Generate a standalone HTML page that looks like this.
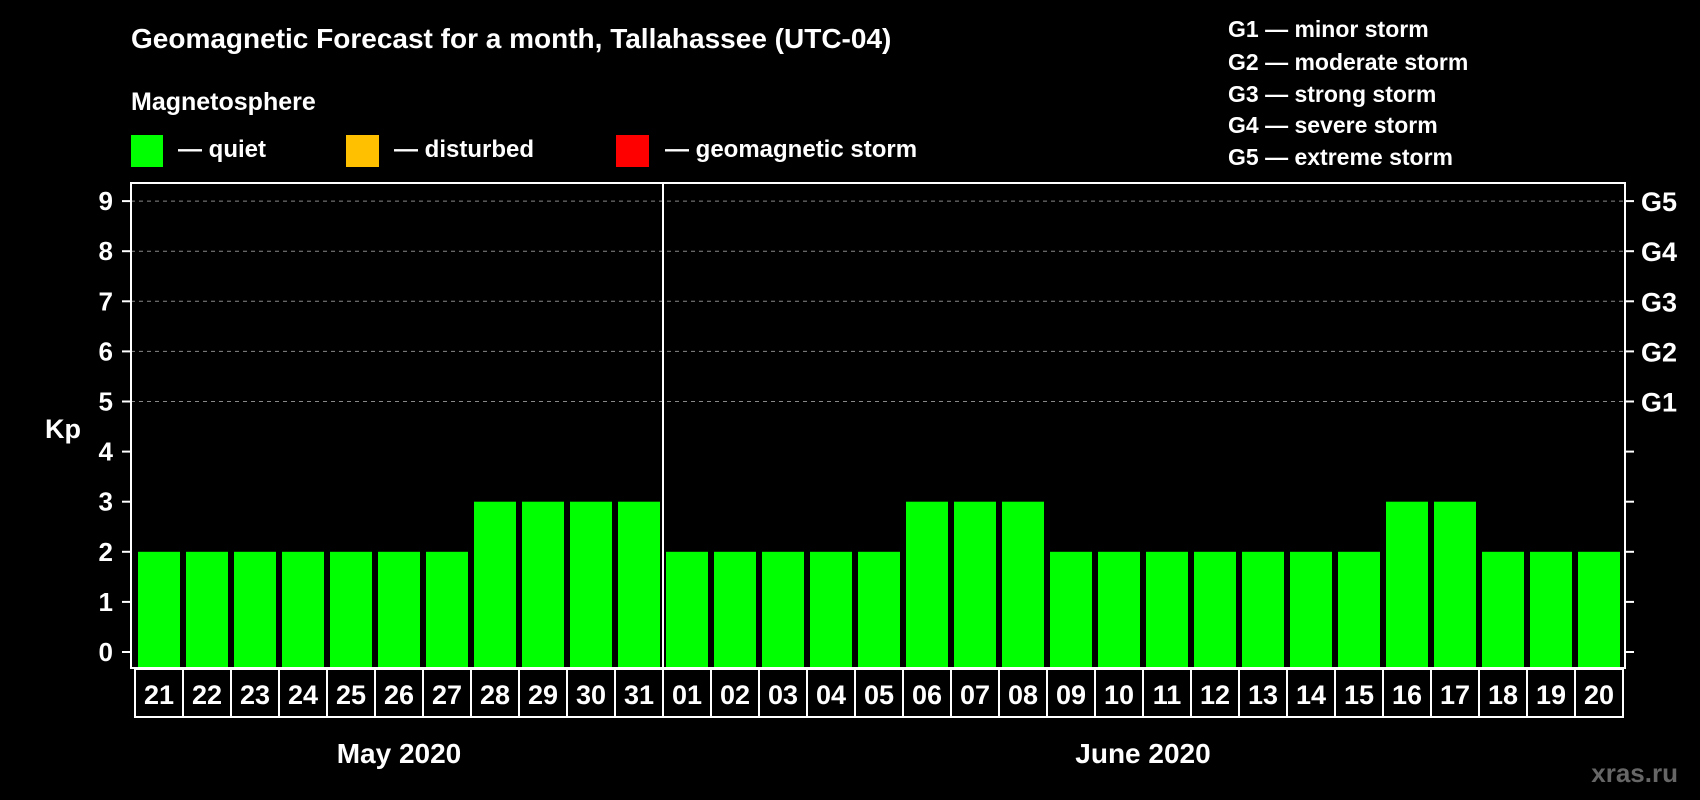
<!DOCTYPE html>
<html><head><meta charset="utf-8"><style>
html,body{margin:0;padding:0;background:#000;width:1700px;height:800px;overflow:hidden}
svg text{font-family:"Liberation Sans",Arial,sans-serif;font-weight:bold;fill:#fff}
</style></head><body>
<svg id="chart" width="1700" height="800" viewBox="0 0 1700 800" xmlns="http://www.w3.org/2000/svg">
<rect x="0" y="0" width="1700" height="800" fill="#000"/>
<text x="131" y="48" font-size="28">Geomagnetic Forecast for a month, Tallahassee (UTC-04)</text>
<text x="131" y="110" font-size="25">Magnetosphere</text>
<g><rect x="131" y="135" width="32" height="32" fill="#00ff00"/><text x="178" y="157" font-size="24">— quiet</text></g>
<g><rect x="346" y="135" width="33" height="32" fill="#ffc000"/><text x="394" y="157" font-size="24">— disturbed</text></g>
<g><rect x="616" y="135" width="33" height="32" fill="#ff0000"/><text x="665" y="157" font-size="24">— geomagnetic storm</text></g>
<g font-size="23">
<text x="1228" y="37">G1 — minor storm</text>
<text x="1228" y="70">G2 — moderate storm</text>
<text x="1228" y="102">G3 — strong storm</text>
<text x="1228" y="133">G4 — severe storm</text>
<text x="1228" y="165">G5 — extreme storm</text>
</g>
<g id="plot"></g>
<text x="63" y="438" font-size="27" text-anchor="middle">Kp</text>
<text x="1678" y="782" font-size="26" text-anchor="end" style="fill:#666">xras.ru</text>
</svg>
<script>
const days = ["21","22","23","24","25","26","27","28","29","30","31","01","02","03","04","05","06","07","08","09","10","11","12","13","14","15","16","17","18","19","20"];
const kpValues = [2,2,2,2,2,2,2,3,3,3,3,2,2,2,2,2,3,3,3,2,2,2,2,2,2,2,3,3,2,2,2];
const yTicks = [0,1,2,3,4,5,6,7,8,9];
const gLabels = ["G1","G2","G3","G4","G5"];
const gLevels = [5,6,7,8,9];
const months = ["May 2020","June 2020"];
const monthDayCounts = [11,20];

const NS="http://www.w3.org/2000/svg";
const g=document.getElementById('plot');
const L=131,R=1625,T=183,B=668,x0=135,pitch=48;
const y=v=>652-v*50.1;
const xs=i=>x0+i*pitch;
function mk(tag,attrs){const e=document.createElementNS(NS,tag);for(const k in attrs)e.setAttribute(k,attrs[k]);g.appendChild(e);return e;}

gLevels.forEach(v=>{const l=mk('line',{x1:L,x2:R,y1:y(v),y2:y(v),stroke:'#888','stroke-width':1,'stroke-dasharray':'4,4'});

});

kpValues.forEach((v,i)=>{const c=v>=5?'#ff0000':(v>=4?'#ffc000':'#00ff00');
const r=mk('rect',{x:xs(i)+3,y:y(v),width:42,height:y(0)+16-y(v)-0,fill:c});
r.setAttribute('height',B-1-y(v));

});

const fr=mk('rect',{x:L,y:T,width:R-L,height:B-T,fill:'none',stroke:'#fff','stroke-width':2});



yTicks.forEach(v=>{
const t1=mk('line',{x1:122,x2:L,y1:y(v),y2:y(v),stroke:'#fff','stroke-width':2});


const t2=mk('line',{x1:R,x2:1634,y1:y(v),y2:y(v),stroke:'#fff','stroke-width':2});


const tx=mk('text',{x:113,y:y(v)+9,'font-size':26,'text-anchor':'end'});tx.textContent=v;

});

gLabels.forEach((s,i)=>{const tx=mk('text',{x:1641,y:y(gLevels[i])+10,'font-size':27});tx.textContent=s;

});

const divX=xs(monthDayCounts[0]);
const dv=mk('line',{x1:divX,x2:divX,y1:T,y2:B,stroke:'#fff','stroke-width':2});



days.forEach((d,i)=>{
const b=mk('rect',{x:xs(i),y:B+1,width:pitch,height:48,fill:'#000',stroke:'#fff','stroke-width':2});


const tx=mk('text',{x:xs(i)+pitch/2,y:B+36,'font-size':27,'text-anchor':'middle'});tx.textContent=d;

});

let start=0;
months.forEach((m,k)=>{const n=monthDayCounts[k];const cx=xs(start)+n*pitch/2;
const tx=mk('text',{x:cx,y:763,'font-size':28,'text-anchor':'middle'});tx.textContent=m;


start+=n;});
</script>
</body></html>
